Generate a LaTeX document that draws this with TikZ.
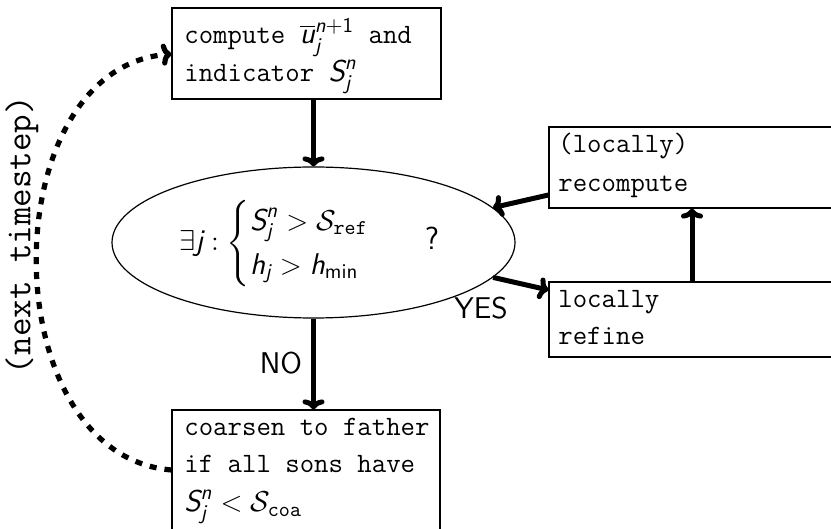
\documentclass[tikz,border=0pt]{standalone}
\usepackage{amsmath}
\usetikzlibrary{shapes.geometric,arrows.meta,fit}
\newcommand\msl[1]{\text{\sffamily\slshape #1}}
\newcommand\mup[1]{\text{\sffamily #1}}
\newcommand\mtt[1]{\text{\ttfamily #1}}
\newcommand\mySjn{\msl{S}_{\msl{j}}^{\msl{n}}}
\newcommand\mathbig[1]{{\fontsize{15}{18.3}\selectfont$#1$}}
\tikzset{
  box/.style={draw, line width=0.6pt, inner sep=0pt},
  txt/.style={anchor=base west, inner sep=0pt, font=\fontsize{14}{17}\selectfont\ttfamily},
  arr/.style={line width=2.5pt, -{To[length=5pt,width=11pt]}},
  dotarr/.style={line width=2.6pt, dash pattern=on 3.5pt off 4pt, -{To[length=5pt,width=11pt]}},
  lbl/.style={font=\fontsize{15}{18}\selectfont\sffamily, inner sep=0pt},
}
\begin{document}
\begin{tikzpicture}[x=0.5pt,y=-0.5pt]
\useasboundingbox (0,0) rectangle (831,529);
\node[box, fit={(172,8) (441,99)}] (top) {};
\node[box, fit={(549,127) (836,208)}] (rec) {};
\node[box, fit={(549,282) (836,357)}] (ref) {};
\node[box, fit={(172,410) (440,540)}] (coa) {};
\node[draw, ellipse, line width=0.6pt, minimum width=201.5pt, minimum height=75.5pt, inner sep=0pt] (ell) at (313.5,242.5) {};
% texts
\node[txt] (t1) at (184,44) {compute \mathbig{\overline{\msl{u}}_{\msl{j}}^{\msl{n}+\mup{1}}} and};
\node[txt] (t2) at (184,82) {indicator \mathbig{\mySjn}};
\node[txt] (r1) at (558,153) {(locally)};
\node[txt] (r2) at (558,192) {recompute};
\node[txt] (f1) at (558,308) {locally};
\node[txt] (f2) at (558,345) {refine};
\node[txt] (c1) at (184,436) {coarsen to father};
\node[txt] (c2) at (184,473) {if all sons have};
\node[txt] (c3) at (184,512) {\mathbig{\mySjn < \mathcal{S}_{\mtt{coa}}}};
\node[anchor=base west, inner sep=0pt, font=\fontsize{15}{18.3}\selectfont] (cond) at (179,251)
  {$\exists \msl{j} : \begin{cases} \mySjn > \mathcal{S}_{\mtt{ref}}\\ \msl{h}_{\msl{j}} > \msl{h}_{\mup{min}}\end{cases}$};
\node[anchor=base, inner sep=0pt, font=\fontsize{16}{19}\selectfont\sffamily] (q) at (432,250) {?};
\node[lbl] (yes) at (481,308) {YES};
\node[lbl] (no) at (281,363) {NO};
\node[font=\fontsize{18}{22}\selectfont\ttfamily, rotate=90, inner sep=0pt] (nt) at (22,235) {(next timestep)};
% connectors
\draw[arr] (top.south -| ell.north) -- (ell.north);
\draw[arr] (ell.south) -- (coa.north -| ell.south);
\draw[arr] (rec.west |- 0,195) -- (ell.11);
\draw[arr] (ell.-11) -- (ref.west |- 0,290);
\draw[arr] (ref.north -| 692,0) -- (rec.south -| 692,0);
\draw[dotarr] (coa.west |- 0,470) .. controls (-8,455) and (-8,69) .. (top.west |- 0,54);
\end{tikzpicture}
\end{document}
